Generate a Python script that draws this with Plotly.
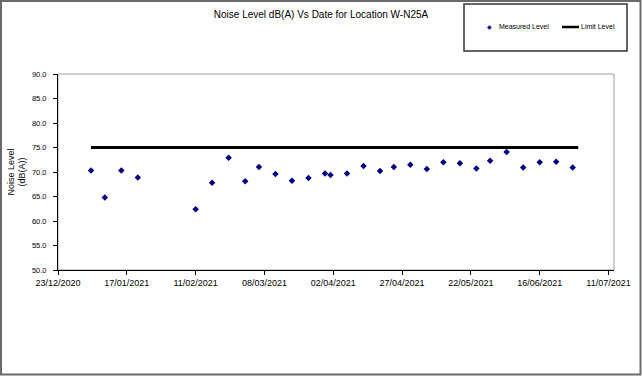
import plotly.graph_objects as go

# ---- data ----
measure_dates = [
    "2021-01-04", "2021-01-09", "2021-01-15", "2021-01-21", "2021-02-11",
    "2021-02-17", "2021-02-23", "2021-03-01", "2021-03-06", "2021-03-12",
    "2021-03-18", "2021-03-24", "2021-03-30", "2021-04-01", "2021-04-07",
    "2021-04-13", "2021-04-19", "2021-04-24", "2021-04-30", "2021-05-06",
    "2021-05-12", "2021-05-18", "2021-05-24", "2021-05-29", "2021-06-04",
    "2021-06-10", "2021-06-16", "2021-06-22", "2021-06-28",
]
measured_level = [
    70.3, 64.8, 70.3, 68.9, 62.4,
    67.8, 72.9, 68.1, 71.0, 69.6,
    68.2, 68.8, 69.7, 69.4, 69.7,
    71.2, 70.2, 71.0, 71.5, 70.6,
    72.0, 71.8, 70.7, 72.3, 74.1,
    70.9, 72.0, 72.1, 70.9,
]
limit_dates = ["2021-01-04", "2021-06-30"]
limit_level = [75.0, 75.0]

series_names = ["Measured Level", "Limit Level"]
title_text = "Noise Level dB(A) Vs Date for Location W-N25A"
y_title = "Noise Level<br>(dB(A))"

FONT = "Liberation Sans, Arial, sans-serif"
NAVY = "#000080"

fig = go.Figure()
fig.add_trace(go.Scatter(
    x=measure_dates, y=measured_level, mode="markers", name=series_names[0],
    marker=dict(symbol="diamond", size=5, color=NAVY), showlegend=False,
))
fig.add_trace(go.Scatter(
    x=limit_dates, y=limit_level, mode="lines", name=series_names[1],
    line=dict(color="black", width=3), showlegend=False,
))

W, H = 642, 376
L, R, T, B = 58, 28, 74, 106
pw, ph = W - L - R, H - T - B

def px(x):
    return (x - L) / pw

def py(y):
    return (H - B - y) / ph

LEG_Y = 27
shapes = [
    # plot frame (gray)
    dict(type="rect", xref="paper", yref="paper", x0=0, x1=1, y0=0, y1=1,
         line=dict(color="#a0a0a0", width=1), layer="below"),
    # outer chart border
    dict(type="rect", xref="paper", yref="paper", x0=px(1), x1=px(640.5),
         y0=py(374.5), y1=py(1), line=dict(color="#6a6a6a", width=2)),
    # legend box
    dict(type="rect", xref="paper", yref="paper", x0=px(464), x1=px(627),
         y0=py(51), y1=py(4), line=dict(color="#333333", width=1.5)),
    # legend line glyph for the limit series
    dict(type="line", xref="paper", yref="paper", x0=px(562), x1=px(579),
         y0=py(LEG_Y), y1=py(LEG_Y), line=dict(color="black", width=2.5)),
]

annotations = [
    dict(text="\u25c6", xref="paper", yref="paper", x=px(489), y=py(LEG_Y),
         xanchor="center", yanchor="middle", showarrow=False,
         font=dict(size=6, color=NAVY, family="DejaVu Sans")),
    dict(text=series_names[0], xref="paper", yref="paper", x=px(497), y=py(LEG_Y),
         xanchor="left", yanchor="middle", showarrow=False,
         font=dict(size=7, color="black", family=FONT)),
    dict(text=series_names[1], xref="paper", yref="paper", x=px(579), y=py(LEG_Y),
         xanchor="left", yanchor="middle", showarrow=False,
         font=dict(size=7, color="black", family=FONT)),
]

fig.update_layout(
    width=W, height=H,
    margin=dict(l=L, r=R, t=T, b=B, autoexpand=False),
    paper_bgcolor="white", plot_bgcolor="white",
    font=dict(family=FONT, color="black", size=8),
    title=dict(text=title_text, x=0.5, xref="container", xanchor="center",
               y=1 - 14 / H, yanchor="middle", yref="container",
               font=dict(size=10, family=FONT, color="black")),
    showlegend=False,
    shapes=shapes,
    annotations=annotations,
)

fig.update_xaxes(
    type="date", range=["2020-12-23", "2021-07-13"],
    tick0="2020-12-23", dtick=25 * 86400000, tickformat="%d/%m/%Y",
    ticks="outside", ticklen=4, tickcolor="black", tickwidth=1,
    showline=True, linecolor="black", linewidth=1, showgrid=False,
    zeroline=False, tickfont=dict(size=9, family=FONT, color="black"),
    automargin=False,
)
fig.update_yaxes(
    range=[50, 90], dtick=5, tick0=50, tickformat=".1f",
    ticks="outside", ticklen=4, tickcolor="black", tickwidth=1,
    showline=True, linecolor="black", linewidth=1, showgrid=False,
    zeroline=False, tickfont=dict(size=7.5, family=FONT, color="black"),
    ticklabelstandoff=5, automargin=False,
    title=dict(text=y_title, font=dict(size=9, family=FONT, color="black"),
               standoff=4),
)

fig.write_html("out.html", config={"displayModeBar": False},
               post_script="document.body.style.margin='0';")
